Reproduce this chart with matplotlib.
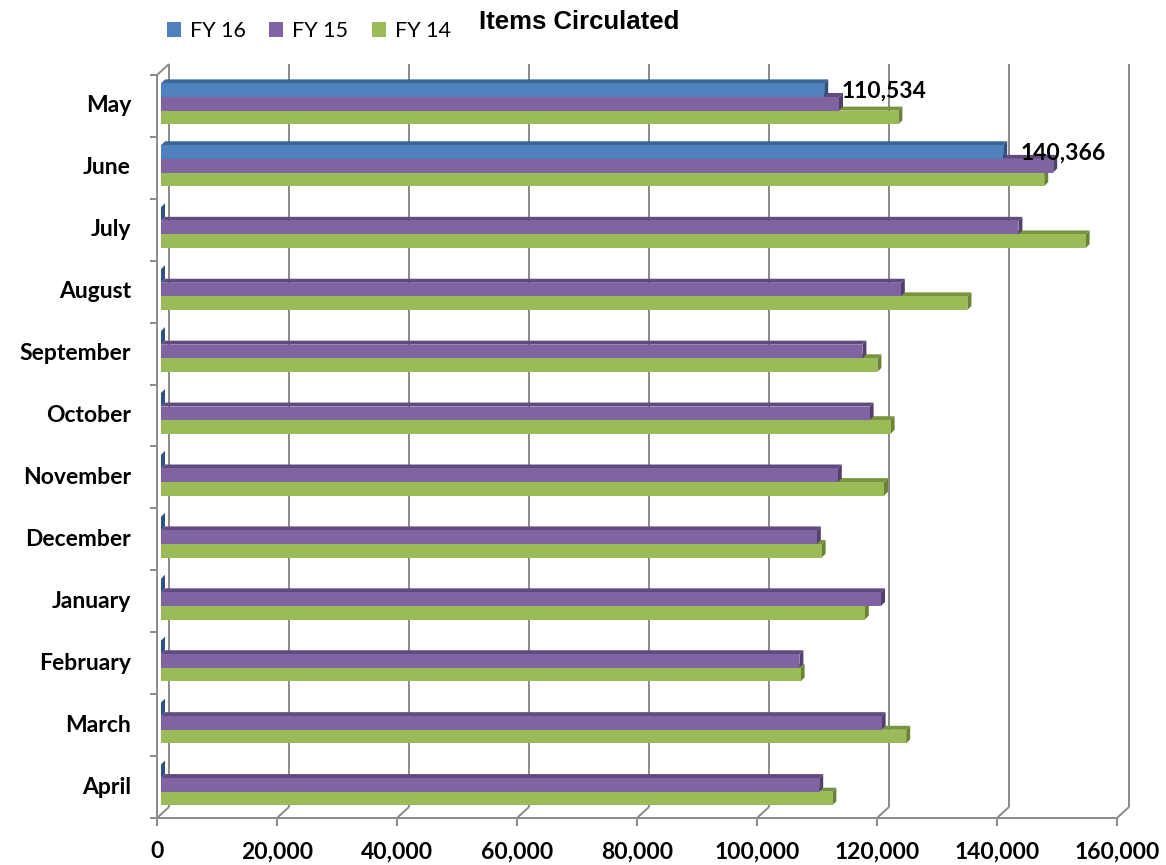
import numpy as np
import matplotlib.pyplot as plt
from matplotlib.patches import Polygon, Rectangle, Patch

months = ["May", "June", "July", "August", "September", "October",
          "November", "December", "January", "February", "March", "April"]
fy16 = [110534, 140366, 0, 0, 0, 0, 0, 0, 0, 0, 0, 0]
fy15 = [113000, 148700, 142900, 123300, 116900, 118100,
        112800, 109300, 120000, 106400, 120100, 109700]
fy14 = [122900, 147200, 154100, 134400, 119400, 121600,
        120500, 110100, 117300, 106600, 124200, 111900]
xticks = np.arange(0, 160001, 20000)

# series: label, values, front / top / side colours
series = [
    ("FY 16", fy16, "#4F81BD", "#3B6594", "#2F5281"),
    ("FY 15", fy15, "#8064A2", "#604B80", "#54406F"),
    ("FY 14", fy14, "#9BBB59", "#789440", "#6A8434"),
]
bar_off = [-0.195, 0.025, 0.245]
bar_h = 0.22

W, H, DPI = 1166, 865, 100
fig = plt.figure(figsize=(W / DPI, H / DPI), dpi=DPI)

# plane the bars sit in, in pixels from top-left
x0, x1 = 161, 1121
y0, y1 = 71.3, 814.3
ax = fig.add_axes([x0 / W, 1 - y1 / H, (x1 - x0) / W, (y1 - y0) / H])
xmax = 160000
n = len(months)
ax.set_xlim(0, xmax)
ax.set_ylim(n - 0.5, -0.5)
ax.axis("off")

px_x = xmax / (x1 - x0)        # data units per pixel, horizontal
px_y = n / (y1 - y0)           # category units per pixel, vertical

lab_kw = dict(fontsize=16.5, fontweight="bold", family="Lato")

# front and back walls relative to the bar plane
fdx, fdy = -4 * px_x, 3.7 * px_y
bdx, bdy = 8 * px_x, -7.3 * px_y
grid_kw = dict(color="#8A8A8A", lw=1.4, clip_on=False, zorder=1,
               solid_capstyle="butt")

top, bot = -0.5, n - 0.5
for t in xticks:
    # back wall gridline and its floor edge
    ax.plot([t + bdx, t + bdx], [top + bdy, bot + bdy], **grid_kw)
    ax.plot([t + bdx, t + fdx], [bot + bdy, bot + fdy], **grid_kw)
    # front tick
    ax.plot([t + fdx, t + fdx], [bot + fdy, bot + fdy + 8 * px_y], **grid_kw)
    ax.text(t + fdx, bot + fdy + 34 * px_y, f"{t:,}", ha="center", va="center",
            **lab_kw)

# front axis line and left wall
ax.plot([fdx, xmax + fdx], [bot + fdy, bot + fdy], **grid_kw)
ax.plot([fdx, fdx], [top + fdy, bot + fdy], **grid_kw)
ax.plot([fdx, bdx], [top + fdy, top + bdy], **grid_kw)
for k in range(n + 1):
    yb = k - 0.5 + fdy
    ax.plot([fdx - 7 * px_x, fdx], [yb, yb], **grid_kw)
for i, m in enumerate(months):
    ax.text(fdx - 26 * px_x, i + fdy, m, ha="right", va="center", **lab_kw)

# 3-D bars: green drawn first so the bar above covers its top face
dx, dy = 4 * px_x, 4 * px_y
for s in [2, 1, 0]:
    label, vals, c_front, c_top, c_side = series[s]
    for i, v in enumerate(vals):
        yt = i + bar_off[s] - bar_h / 2
        yb = yt + bar_h
        ax.add_patch(Polygon([(0, yt), (v, yt), (v + dx, yt - dy), (dx, yt - dy)],
                             closed=True, fc=c_top, ec="none", zorder=3,
                             clip_on=False))
        ax.add_patch(Polygon([(v, yt), (v, yb), (v + dx, yb - dy), (v + dx, yt - dy)],
                             closed=True, fc=c_side, ec="none", zorder=3,
                             clip_on=False))
        ax.add_patch(Rectangle((0, yt), v, bar_h, fc=c_front, ec="none",
                               zorder=3, clip_on=False))

# value labels on the FY 16 bars
for i, v in enumerate(fy16):
    if v > 0:
        ax.annotate(f"{v:,}", xy=(v, i + bar_off[0]), xytext=(17, -1.5),
                    textcoords="offset pixels", ha="left", va="center",
                    zorder=5, **lab_kw)

handles = [Patch(fc=s[2], ec="none", label=s[0]) for s in series]
fig.legend(handles=handles, loc="center left", bbox_to_anchor=(156 / W, 1 - 31 / H),
           ncol=3, frameon=False, borderpad=0, handlelength=0.65,
           handleheight=0.65, handletextpad=0.42, columnspacing=1.1,
           prop={"family": "Lato", "size": 15.5})

fig.text(579 / W, 1 - 22 / H, "Items Circulated", ha="center", va="center",
         fontsize=18.5, fontweight="bold", family="Liberation Sans")

fig.savefig("out.png", dpi=DPI, facecolor="white")
